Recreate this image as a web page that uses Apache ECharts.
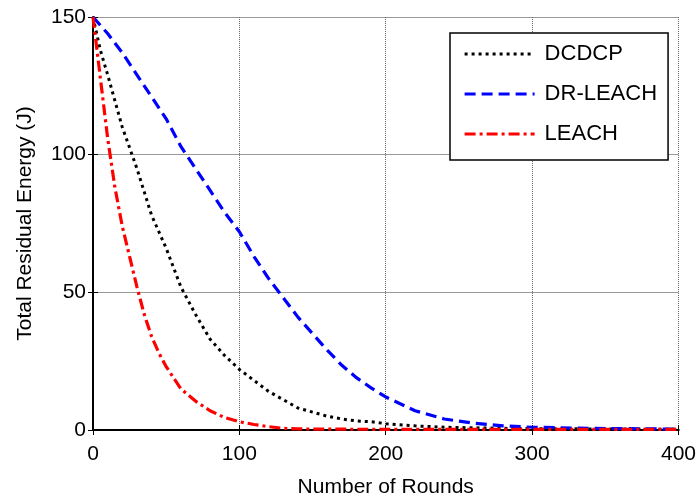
<!DOCTYPE html>
<html>
<head>
<meta charset="utf-8">
<script src="https://cdn.jsdelivr.net/npm/echarts@6/dist/echarts.min.js"></script>
<style>html,body{margin:0;padding:0;background:#fff}#c{width:699px;height:503px}</style>
</head>
<body>
<div id="c"></div>
<script>
var xTicks = [0, 100, 200, 300, 400];
var yTicks = [0, 50, 100, 150];

var dcdcpX = [0, 5, 10, 20, 30, 40, 50, 60, 70, 80, 90, 100, 110, 120, 130, 140, 150, 160, 170, 180, 190, 200, 220, 240, 260, 280, 300, 320, 340, 360, 380, 400];
var dcdcpY = [150, 138, 129, 110, 95, 78, 66, 52, 42, 33, 27, 22, 18, 14, 11, 8, 6.5, 5, 4, 3.3, 3, 2.3, 1.5, 1, 0.8, 0.6, 0.5, 0.45, 0.4, 0.35, 0.3, 0.3];

var drX = [0, 10, 20, 30, 40, 50, 60, 70, 80, 90, 100, 110, 120, 130, 140, 150, 160, 170, 180, 190, 200, 220, 240, 260, 280, 300, 320, 340, 360, 380, 400];
var drY = [150, 144, 137, 129, 121, 113, 103, 95, 87, 79, 72, 63, 55, 48, 41, 35, 29, 23.5, 19, 15.3, 12, 7, 4, 2.5, 1.5, 1, 0.8, 0.6, 0.5, 0.4, 0.3];

var leachX = [0, 5, 10, 15, 20, 25, 30, 35, 40, 45, 50, 55, 60, 70, 80, 90, 100, 110, 120, 130, 140, 160, 200, 250, 300, 350, 400];
var leachY = [150, 128, 106, 88, 74, 63, 52, 42, 34, 28, 23, 19, 15, 10.5, 7, 4.5, 3, 2, 1.2, 0.6, 0.4, 0.3, 0.25, 0.2, 0.2, 0.2, 0.2];

function pairs(xs, ys) { return xs.map(function (x, i) { return [x, ys[i]]; }); }

var font = 'Liberation Sans, Arial, sans-serif';
var chart = echarts.init(document.getElementById('c'), null, {renderer: 'canvas'});
chart.setOption({
  backgroundColor: '#fff',
  animation: false,
  grid: {left: 93, right: 20, top: 17, bottom: 72, containLabel: false},
  legend: {
    orient: 'vertical',
    left: 450, top: 33,
    padding: [10, 11, 15, 13],
    itemWidth: 70, itemHeight: 20, itemGap: 18,
    itemStyle: {opacity: 0},
    lineStyle: {width: 3.2},
    backgroundColor: '#fff',
    borderColor: '#000', borderWidth: 1.5,
    textStyle: {fontFamily: font, fontSize: 22, color: '#000', padding: [0, 0, 0, 5]},
    data: ['DCDCP', 'DR-LEACH', 'LEACH']
  },
  xAxis: [{
    type: 'value', min: 0, max: 400, interval: 100,
    name: 'Number of Rounds', nameLocation: 'middle', nameGap: 47,
    nameTextStyle: {fontFamily: font, fontSize: 21, color: '#000'},
    axisLine: {show: true, lineStyle: {color: '#000', width: 2}},
    axisTick: {show: true, inside: true, length: 5, lineStyle: {color: '#000'}},
    axisLabel: {fontFamily: font, fontSize: 21, color: '#000', margin: 14,
      formatter: function (v) { return xTicks.indexOf(v) >= 0 ? String(v) : ''; }},
    splitLine: {show: true, lineStyle: {color: '#666', width: 1, type: [1, 1]}}
  }, {
    type: 'value', min: 0, max: 400, interval: 100, position: 'top',
    axisLine: {show: true, lineStyle: {color: '#000', width: 2}},
    axisTick: {show: true, inside: true, length: 5, lineStyle: {color: '#000'}},
    axisLabel: {show: false}, splitLine: {show: false}
  }],
  yAxis: [{
    type: 'value', min: 0, max: 150, interval: 50,
    name: 'Total Residual Energy (J)', nameLocation: 'middle', nameGap: 57,
    nameTextStyle: {fontFamily: font, fontSize: 21, color: '#000'},
    axisLine: {show: true, lineStyle: {color: '#000', width: 2}},
    axisTick: {show: true, inside: true, length: 5, lineStyle: {color: '#000'}},
    axisLabel: {fontFamily: font, fontSize: 21, color: '#000', margin: 7,
      formatter: function (v) { return yTicks.indexOf(v) >= 0 ? String(v) : ''; }},
    splitLine: {show: true, lineStyle: {color: '#999', width: 1}}
  }, {
    type: 'value', min: 0, max: 150, interval: 50, position: 'right',
    axisLine: {show: true, lineStyle: {color: '#000', width: 1}},
    axisTick: {show: true, inside: true, length: 5, lineStyle: {color: '#000'}},
    axisLabel: {show: false}, splitLine: {show: false}
  }],
  series: [{
    name: 'DCDCP', type: 'line', symbol: 'none', smooth: false,
    data: pairs(dcdcpX, dcdcpY),
    lineStyle: {color: '#000', width: 3, type: [3, 4]},
    itemStyle: {color: '#000'}
  }, {
    name: 'DR-LEACH', type: 'line', symbol: 'none',
    data: pairs(drX, drY),
    lineStyle: {color: '#0000ff', width: 3.2, type: [11, 6]},
    itemStyle: {color: '#0000ff'}
  }, {
    name: 'LEACH', type: 'line', symbol: 'none',
    data: pairs(leachX, leachY),
    lineStyle: {color: '#ff0000', width: 3.2, type: [11, 4, 3, 4]},
    itemStyle: {color: '#ff0000'}
  }]
});
</script>
</body>
</html>
